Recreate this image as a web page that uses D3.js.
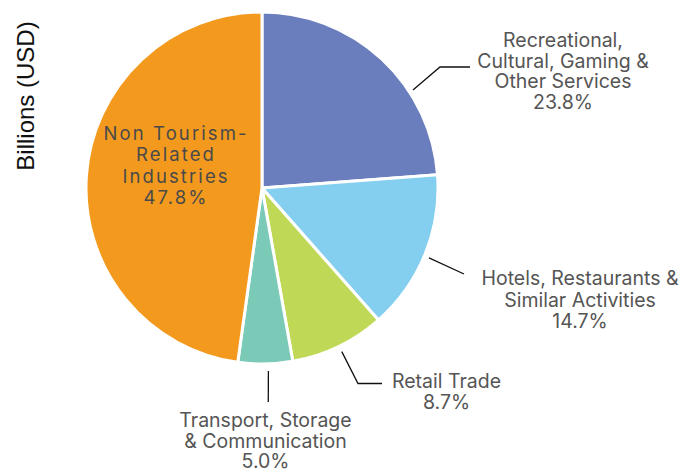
<!DOCTYPE html>
<html><head><meta charset="utf-8">
<script src="https://cdn.jsdelivr.net/npm/d3@7"></script>
<style>body{margin:0;background:#fff}svg{display:block}</style>
</head><body>
<svg id="c" width="685" height="472"></svg>
<script>
const categories = ["Recreational, Cultural, Gaming & Other Services","Hotels, Restaurants & Similar Activities","Retail Trade","Transport, Storage & Communication","Non Tourism-Related Industries"];
const shares = [23.8, 14.7, 8.7, 5.0, 47.8];
const colors = ["#6a7dbd","#84cef0","#bfd957","#7bc9b7","#f39a1e"];
const labelLines = [
  ["Recreational,","Cultural, Gaming &","Other Services","23.8%"],
  ["Hotels, Restaurants &","Similar Activities","14.7%"],
  ["Retail Trade","8.7%"],
  ["Transport, Storage","& Communication","5.0%"],
  ["Non Tourism-","Related","Industries","47.8%"]
];
const yTitle = "Billions (USD)";

const svg = d3.select("#c");
const cx = 262, cy = 188, R = 176;
const g = svg.append("g").attr("transform", `translate(${cx},${cy})`);
const pie = d3.pie().sort(null).value(d => d)(shares);
const arc = d3.arc().innerRadius(0).outerRadius(R);
g.selectAll("path").data(pie).join("path")
  .attr("d", arc).attr("fill", (d,i) => colors[i])
  .attr("stroke", "#fff").attr("stroke-width", 3).attr("stroke-linejoin","round");

const font = "Inter, 'Noto Sans', sans-serif";
const layout = [
  {x:563, y:47, lh:20.7, fs:19.5, lead:{a:57, r:180, pts:[[440,67],[470,67]]}},
  {x:580, y:285, lh:21.5, fs:19.5, lead:{a:112.7, r:181, pts:[[464,274]]}},
  {x:446.5, y:388.3, lh:20.7, fs:19.5, lead:{a:154, r:182, pts:[[358,383.5],[382,383.5]]}},
  {x:265.5, y:427.3, lh:20.3, fs:19.5, lead:{a:178, r:183, pts:[[268.3,402]]}},
  {x:175, y:140, lh:21.3, fs:18.5, spacing:2.1, fill:"#4a4a4a"}
];
layout.forEach((L,i) => {
  const t = svg.append("text").attr("text-anchor","middle")
    .attr("font-family", font).attr("font-size", L.fs).attr("fill", L.fill || "#555")
    .attr("letter-spacing", L.spacing || 0);
  labelLines[i].forEach((s,j) => t.append("tspan")
    .attr("x", L.x + (L.spacing ? L.spacing/2 : 0)).attr("y", L.y + j*L.lh).text(s));
  if (L.lead) {
    const a = L.lead.a * Math.PI/180;
    const p0 = [cx + L.lead.r*Math.sin(a), cy - L.lead.r*Math.cos(a)];
    svg.append("path").attr("d", d3.line()([p0, ...L.lead.pts]))
      .attr("fill","none").attr("stroke","#111").attr("stroke-width",1.3);
  }
});

svg.append("text").attr("transform","translate(34,96) rotate(-90)")
  .attr("text-anchor","middle").attr("font-family","'Liberation Sans', Arial, sans-serif")
  .attr("font-size",24).attr("fill","#111").text(yTitle);
</script>
</body></html>
